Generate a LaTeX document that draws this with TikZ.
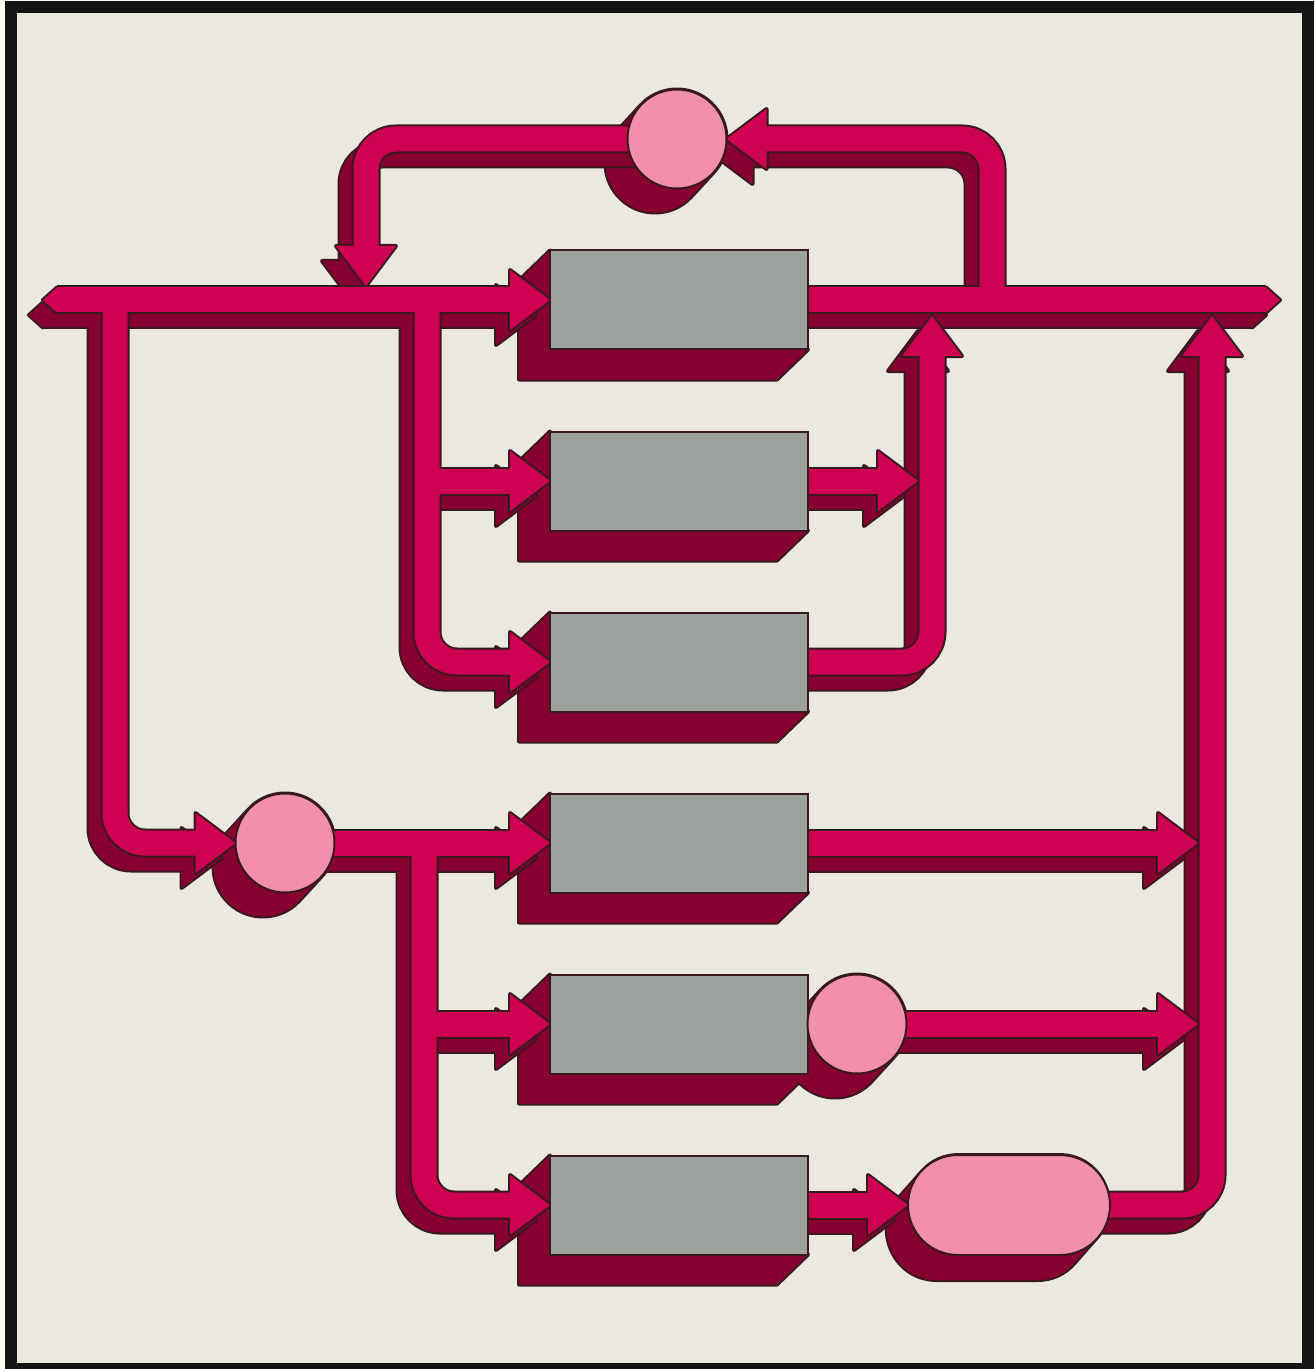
\documentclass[tikz,border=0pt]{standalone}
\usepackage{tikz}
\usetikzlibrary{positioning}

\definecolor{paper}{RGB}{235,232,224}
\definecolor{pipe}{RGB}{206,0,82}
\definecolor{pipeside}{RGB}{135,0,50}
\definecolor{rim}{RGB}{55,25,30}
\definecolor{unitgray}{RGB}{158,162,158}
\definecolor{blob}{RGB}{241,143,172}

\pgfdeclarelayer{bg}
\pgfdeclarelayer{ext}
\pgfdeclarelayer{pshadow}
\pgfdeclarelayer{ptop}
\pgfsetlayers{bg,ext,pshadow,ptop,main}

\tikzset{
  unit/.style={rectangle, draw=rim, line width=1pt, fill=unitgray, minimum width=129pt, minimum height=49.5pt, inner sep=0pt, outer sep=0pt},
  mixer/.style={circle, draw=rim, line width=1pt, fill=blob, minimum size=49.5pt, inner sep=0pt, outer sep=0pt},
  tank/.style={rectangle, rounded corners=25pt, draw=rim, line width=1pt, fill=blob, minimum width=101pt, minimum height=50pt, inner sep=0pt, outer sep=0pt},
  rimline/.style={draw=rim, line width=14.5pt, rounded corners=15pt},
  sideline/.style={draw=pipeside, line width=12.5pt, rounded corners=15pt},
  topline/.style={draw=pipe, line width=12.5pt, rounded corners=15pt},
  rimhead/.style={draw=rim, line width=2pt, line join=round},
  shadowshift/.style={transform canvas={shift={(-14,15)}}},
  head/.pic={\path[pic actions] (0,0) -- (-40,-30) -- (-40,30) -- cycle;},
  bevel/.pic={\path[pic actions] (0,0) -- (-14,-12.5) -- (-14,12.5) -- cycle;}
}

\newcommand\pipework[1]{%
  \draw[#1, shorten >=11pt] (busL) -- (box1.west);
  \draw[#1] (box1.center) -- (busR);
  \draw[#1, shorten >=11pt] (j1) |- (ring1.east);
  \draw[#1, shorten >=11pt] (ring1.center) -| (j2);
  \draw[#1, shorten >=11pt] (j3) |- (ring2.west);
  \draw[#1, shorten >=11pt] (j4) |- (box3.west);
  \draw[#1, shorten >=11pt] (j4 |- box2.west) -- (box2.west);
  \draw[#1, shorten >=11pt] (box2.center) -- (t7);
  \draw[#1, shorten >=11pt] (box3.center) -| (r1);
  \draw[#1, shorten >=11pt] (ring2.center) -- (box4.west);
  \draw[#1, shorten >=11pt] (j6) |- (box6.west);
  \draw[#1, shorten >=11pt] (j6 |- box5.west) -- (box5.west);
  \draw[#1, shorten >=11pt] (box4.center) -- (t10);
  \draw[#1, shorten >=11pt] (ring3.center) -- (t11);
  \draw[#1, shorten >=11pt] (box6.center) -- (tank.west);
  \draw[#1, shorten >=11pt] (tank.center) -| (r2);
}

\newcommand\headwork[1]{%
  \foreach \i in {1,...,6} \pic[#1] at (box\i.west) {head};
  \pic[#1] at (ring2.west) {head};
  \pic[#1] at (tank.west) {head};
  \pic[#1] at (t7) {head};
  \pic[#1] at (t10) {head};
  \pic[#1] at (t11) {head};
  \pic[#1, rotate=90] at (r1) {head};
  \pic[#1, rotate=90] at (r2) {head};
  \pic[#1, rotate=180] at (ring1.east) {head};
  \pic[#1, rotate=-90] at (j2) {head};
  \pic[#1] at (tipR) {bevel};
  \pic[#1, rotate=180] at (tipL) {bevel};
}

\begin{document}
\begin{tikzpicture}[x=0.5pt, y=-0.5pt, node distance=90.5pt, on grid]
  \useasboundingbox (0,0) rectangle (1314,1369);

  \node[unit] (box1) at (679,300) {};
  \node[unit] (box2) [below=of box1] {};
  \node[unit] (box3) [below=of box2] {};
  \node[unit] (box4) [below=of box3] {};
  \node[unit] (box5) [below=of box4] {};
  \node[unit] (box6) [below=of box5] {};
  \node[mixer] (ring1) at (677,139) {};
  \node[mixer] (ring2) at (285,843) {};
  \node[mixer] (ring3) [right=89pt of box5] {};
  \node[tank] (tank) [right=165pt of box6] {};

  \coordinate (tipL) at (43,300);
  \coordinate (busL) at (57,300);
  \coordinate (busR) at (1266,300);
  \coordinate (tipR) at (1280,300);
  \coordinate (j1) at (992,300);
  \coordinate (j2) at (366,286);
  \coordinate (j3) at (115,300);
  \coordinate (j4) at (427,300);
  \coordinate (j6) at (424,843);
  \coordinate (r1) at (932,316);
  \coordinate (r2) at (1212,316);
  \coordinate (t7) at (918,481);
  \coordinate (t10) at (1198,843);
  \coordinate (t11) at (1198,1024);
  \coordinate (tl) at (959,1205);
  \coordinate (tr) at (1059,1205);

  \begin{pgfonlayer}{bg}
    \fill[white!94!yellow] (0,0) rectangle (1314,1369);
    \fill[black!92] (5,1) rectangle (1314,1369);
    \fill[paper] (17,13) rectangle (1302,1363);
  \end{pgfonlayer}

  \begin{pgfonlayer}{ext}
    \foreach \i in {1,...,6}
      \draw[rim, line width=2pt, line join=round] (box\i.north west) -- ++(-31,30) -- ++(0,99) -- ++(258,0) -- (box\i.south east) -- (box\i.south west) -- cycle;
    \foreach \m in {ring1,ring2,ring3}
      \draw[rim, line width=51.5pt, line cap=round] (\m.center) -- ++(-22,24);
    \draw[rim, line width=52pt, line join=round] (tl) -- (tr) -- ++(-22,25) -- ++(-100,0) -- cycle;
    \foreach \i in {1,...,6}
      \fill[pipeside] (box\i.north west) -- ++(-31,30) -- ++(0,99) -- ++(258,0) -- (box\i.south east) -- (box\i.south west) -- cycle;
    \foreach \m in {ring1,ring2,ring3}
      \draw[pipeside, line width=49.5pt, line cap=round] (\m.center) -- ++(-22,24);
    \draw[pipeside, line width=50pt, line join=round] (tl) -- (tr) -- ++(-22,25) -- ++(-100,0) -- cycle;
  \end{pgfonlayer}

  \begin{pgfonlayer}{pshadow}
    \begin{scope}[shadowshift]
      \pipework{rimline}
      \headwork{rimhead}
      \pipework{sideline}
      \headwork{fill=pipeside}
    \end{scope}
  \end{pgfonlayer}

  \begin{pgfonlayer}{ptop}
    \pipework{rimline}
    \headwork{rimhead}
    \pipework{topline}
    \headwork{fill=pipe}
  \end{pgfonlayer}
\end{tikzpicture}
\end{document}
